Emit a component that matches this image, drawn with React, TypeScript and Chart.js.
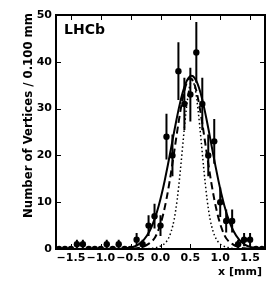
import { useEffect, useRef } from "react";
import { Chart, registerables } from "chart.js";

Chart.register(...registerables);

// Histogram bin centres (mm) and counts per 0.100 mm bin
const binCenters = [
  -1.7, -1.6, -1.5, -1.4, -1.3, -1.2, -1.1, -1.0, -0.9, -0.8, -0.7, -0.6, -0.5,
  -0.4, -0.3, -0.2, -0.1, 0.0, 0.1, 0.2, 0.3, 0.4, 0.5, 0.6, 0.7, 0.8, 0.9, 1.0,
  1.1, 1.2, 1.3, 1.4, 1.5, 1.6, 1.7,
];
const counts = [
  0, 0, 0, 1, 1, 0, 0, 0, 1, 0, 1, 0, 0,
  2, 1, 5, 7, 5, 24, 20, 38, 31, 33, 42, 31, 20, 23, 10,
  6, 6, 1, 2, 2, 0, 0,
];

// Solid curve
const solidX = [
  -1.75, -0.68, -0.48, -0.38, -0.28, -0.18, -0.08, -0.03, 0.02, 0.07, 0.12, 0.17,
  0.22, 0.27, 0.32, 0.37, 0.42, 0.47, 0.52, 0.57, 0.62, 0.67, 0.72, 0.77, 0.82,
  0.87, 0.92, 0.97, 1.02, 1.07, 1.12, 1.22, 1.32, 1.42, 1.52, 1.72, 1.75,
];
const solidY = [
  0, 0.05, 0.38, 0.9, 1.96, 3.9, 7.09, 9.23, 11.74, 14.6, 17.75, 21.08,
  24.48, 27.77, 30.79, 33.37, 35.34, 36.58, 37, 36.58, 35.34, 33.37, 30.79, 27.77, 24.48,
  21.08, 17.75, 14.6, 11.74, 9.23, 7.09, 3.9, 1.96, 0.9, 0.38, 0.05, 0.04,
];

// Dashed curve
const dashedX = [
  -1.75, -0.5, -0.4, -0.3, -0.2, -0.1, -0.05, 0.0, 0.05, 0.1, 0.15, 0.2, 0.25, 0.3,
  0.35, 0.4, 0.45, 0.5, 0.55, 0.6, 0.65, 0.7, 0.75, 0.8, 0.85, 0.9, 0.95, 1.0,
  1.05, 1.1, 1.2, 1.3, 1.4, 1.5, 1.75,
];
const dashedY = [
  0, 0.02, 0.15, 0.45, 1.1, 2.29, 3.57, 5.34, 7.69, 10.67, 14.23, 18.27, 22.57, 26.83,
  30.7, 33.8, 35.81, 36.5, 35.81, 33.8, 30.7, 26.83, 22.57, 18.27, 14.23, 10.67, 7.69, 5.34,
  3.57, 2.29, 1.1, 0.45, 0.15, 0.02, 0,
];

// Dotted curve
const dottedX = [
  -1.75, -0.27, -0.17, -0.07, 0.03, 0.08, 0.13, 0.18, 0.23, 0.28, 0.33, 0.38, 0.43,
  0.48, 0.53, 0.58, 0.63, 0.68, 0.73, 0.78, 0.83, 0.88, 0.93, 0.98, 1.03, 1.13,
  1.23, 1.33, 1.75,
];
const dottedY = [
  0, 0.03, 0.1, 0.3, 0.8, 1.3, 2.2, 3.8, 6.4, 10.62, 16.48, 23.2, 29.61,
  34.28, 36, 34.28, 29.61, 23.2, 16.48, 10.62, 6.4, 3.8, 2.2, 1.3, 0.8, 0.3,
  0.1, 0.03, 0,
];

const xTicks = [-1.5, -1.0, -0.5, 0.0, 0.5, 1.0, 1.5];
const xTickLabels = ["\u22121.5", "\u22121.0", "\u22120.5", "0.0", "0.5", "1.0", "1.5"];
const yTicks = [0, 10, 20, 30, 40, 50];
const yTickLabels = ["0", "10", "20", "30", "40", "50"];

const FONT = "'DejaVu Sans', 'Liberation Sans', sans-serif";

export default function App() {
  const ref = useRef<HTMLCanvasElement>(null);

  useEffect(() => {
    document.body.style.margin = "0";
    const canvas = ref.current!;
    const points = binCenters.map((x, i) => ({ x, y: counts[i] }));
    const errBars: { x: number; y: number | null }[] = [];
    binCenters.forEach((x, i) => {
      const n = counts[i];
      if (n > 0) {
        const e = Math.sqrt(n);
        errBars.push({ x, y: n - e });
        errBars.push({ x, y: n + e });
        errBars.push({ x, y: null });
      }
    });

    const framePlugin = {
      id: "frame",
      afterDraw(chart: any) {
        const { ctx, chartArea } = chart;
        const xs = chart.scales.x;
        const ys = chart.scales.y;
        const { left, right, top, bottom } = chartArea;
        ctx.save();
        ctx.strokeStyle = "#000";
        ctx.lineWidth = 1;
        ctx.beginPath();
        xTicks.forEach((v) => {
          const px = Math.round(xs.getPixelForValue(v)) + 0.5;
          ctx.moveTo(px, bottom);
          ctx.lineTo(px, bottom - 5);
          ctx.moveTo(px, top);
          ctx.lineTo(px, top + 5);
        });
        yTicks.forEach((v) => {
          const py = Math.round(ys.getPixelForValue(v)) + 0.5;
          ctx.moveTo(left, py);
          ctx.lineTo(left + 5, py);
          ctx.moveTo(right, py);
          ctx.lineTo(right - 5, py);
        });
        ctx.stroke();
        ctx.lineWidth = 2;
        ctx.strokeRect(left, top, right - left, bottom - top);

        ctx.fillStyle = "#000";
        ctx.font = `bold 14px ${FONT}`;
        ctx.textAlign = "left";
        ctx.textBaseline = "alphabetic";
        ctx.fillText("LHCb", left + 8, top + 19);

        ctx.font = `bold 11px ${FONT}`;
        ctx.textAlign = "right";
        ctx.fillText("x [mm]", right - 3, bottom + 25.5);

        ctx.font = `bold 11.7px ${FONT}`;
        ctx.translate(31.5, 115.5);
        ctx.rotate(-Math.PI / 2);
        ctx.textAlign = "center";
        ctx.fillText("Number of Vertices / 0.100 mm", 0, 0);
        ctx.restore();
      },
    };

    const tickFont = { family: FONT, size: 11, weight: "bold" as const };

    const chart = new Chart(canvas, {
      type: "line",
      data: {
        datasets: [
          {
            label: "data",
            data: points,
            showLine: false,
            pointRadius: 3.2,
            pointBackgroundColor: "#000",
            pointBorderWidth: 0,
            clip: 0,
          } as any,
          {
            label: "errors",
            data: errBars,
            borderColor: "#000",
            borderWidth: 2,
            pointRadius: 0,
            spanGaps: false,
          },
          {
            label: "solid",
            data: solidX.map((x, i) => ({ x, y: solidY[i] })),
            borderColor: "#000",
            borderWidth: 2,
            pointRadius: 0,
            cubicInterpolationMode: "monotone",
          },
          {
            label: "dashed",
            data: dashedX.map((x, i) => ({ x, y: dashedY[i] })),
            borderColor: "#000",
            borderWidth: 2,
            borderDash: [7, 4],
            pointRadius: 0,
            cubicInterpolationMode: "monotone",
          },
          {
            label: "dotted",
            data: dottedX.map((x, i) => ({ x, y: dottedY[i] })),
            borderColor: "#000",
            borderWidth: 1.5,
            borderDash: [1.5, 2.5],
            pointRadius: 0,
            cubicInterpolationMode: "monotone",
          },
        ],
      },
      options: {
        responsive: false,
        animation: false,
        devicePixelRatio: 1,
        layout: { padding: { top: 15, right: 14, left: 0, bottom: 0 } },
        plugins: { legend: { display: false }, tooltip: { enabled: false } },
        scales: {
          x: {
            type: "linear",
            min: -1.75,
            max: 1.75,
            afterBuildTicks: (s: any) => {
              s.ticks = xTicks.map((v) => ({ value: v }));
            },
            afterFit: (s: any) => {
              s.height = 45;
            },
            ticks: {
              autoSkip: false,
              maxRotation: 0,
              padding: 3,
              color: "#000",
              font: tickFont,
              callback: (v: any) => xTickLabels[xTicks.indexOf(Number(v))] ?? "",
            },
            grid: { display: false, drawTicks: false },
            border: { display: false },
          },
          y: {
            type: "linear",
            min: 0,
            max: 50,
            afterBuildTicks: (s: any) => {
              s.ticks = yTicks.map((v) => ({ value: v }));
            },
            afterFit: (s: any) => {
              s.width = 56;
            },
            ticks: {
              autoSkip: false,
              padding: 4,
              color: "#000",
              font: tickFont,
              callback: (v: any) => yTickLabels[yTicks.indexOf(Number(v))] ?? "",
            },
            grid: { display: false, drawTicks: false },
            border: { display: false },
          },
        },
      },
      plugins: [framePlugin],
    });
    return () => chart.destroy();
  }, []);

  return (
    <canvas
      ref={ref}
      width={279}
      height={294}
      style={{ display: "block", width: 279, height: 294 }}
    />
  );
}
